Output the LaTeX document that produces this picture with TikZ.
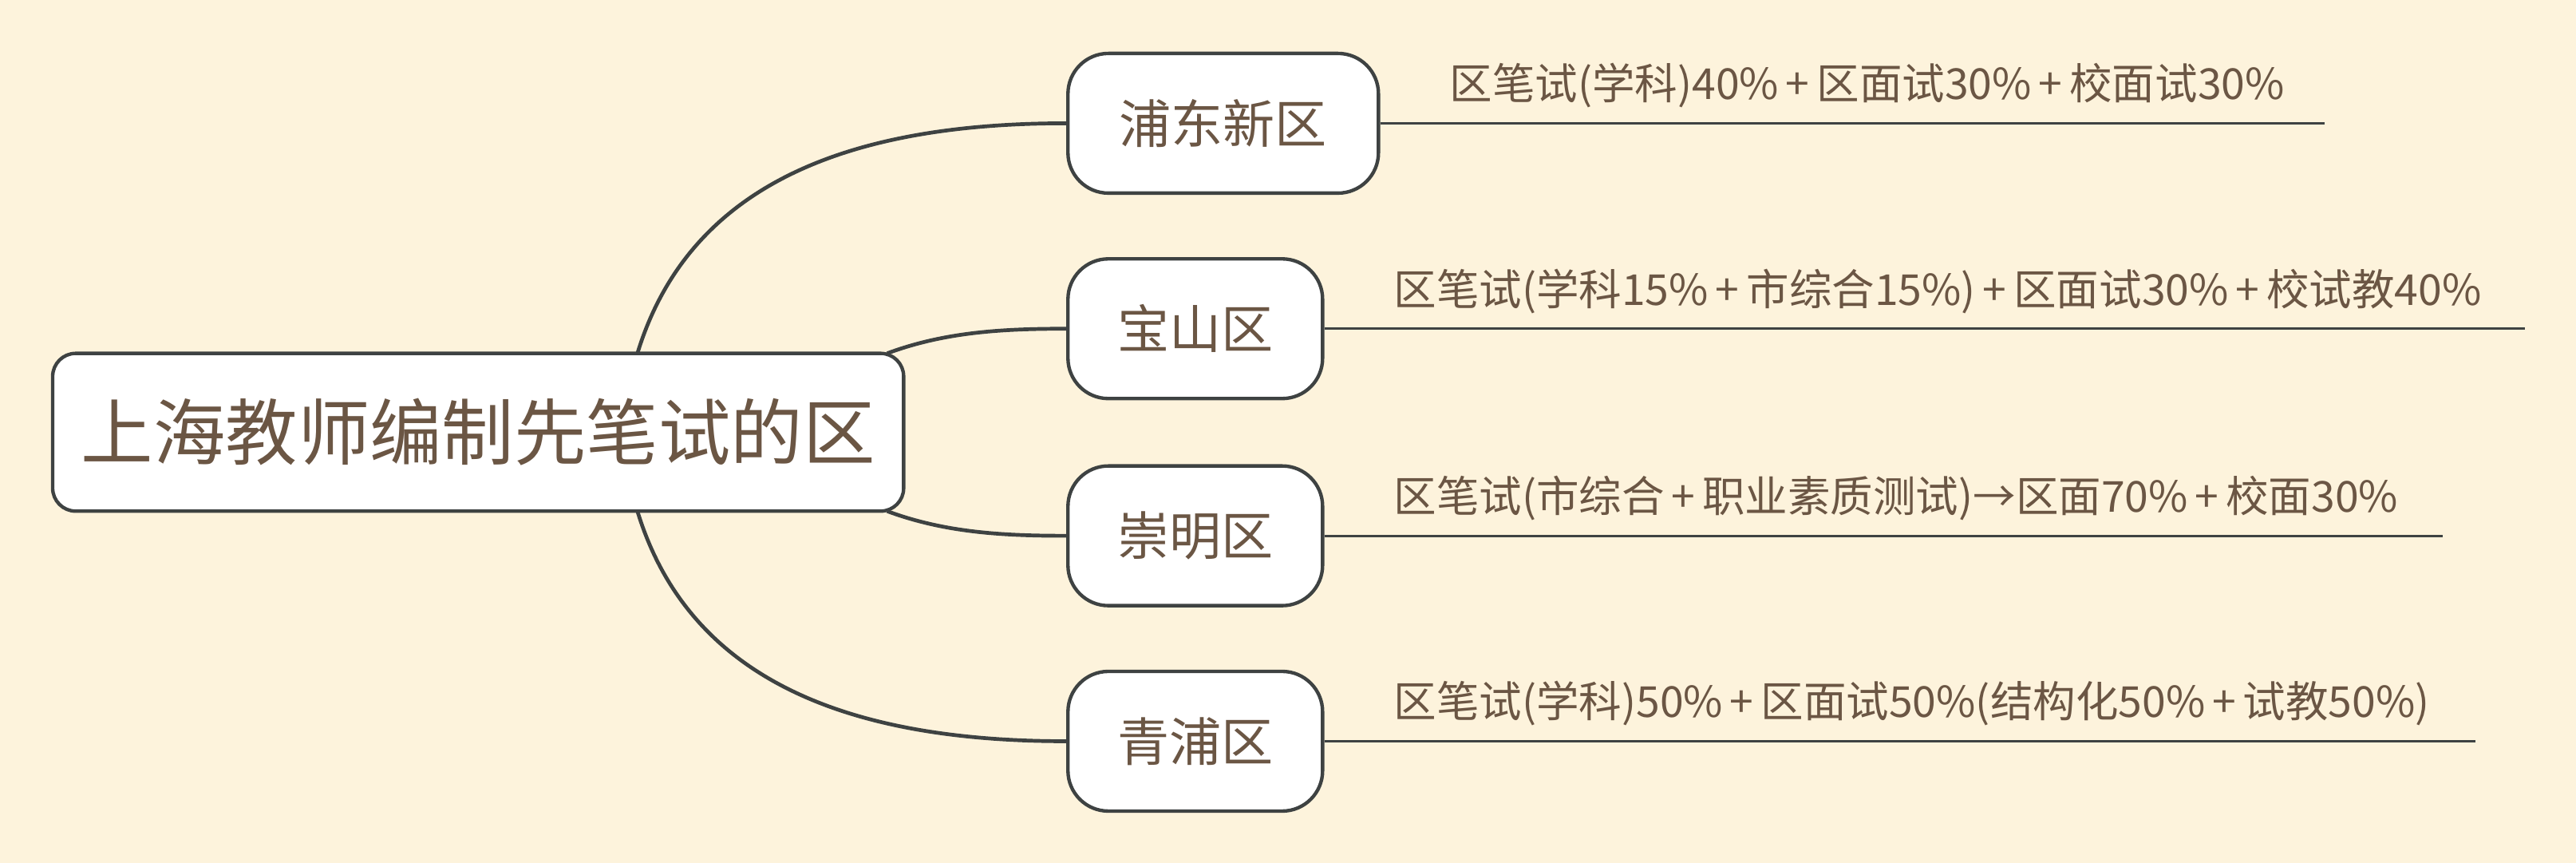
\documentclass[tikz,border=0pt]{standalone}
\usepackage{fontspec}
\newfontfamily\cjk{Noto Sans CJK SC}
\definecolor{bg}{HTML}{FDF3DC}
\definecolor{txt}{HTML}{6B5644}
\definecolor{ln}{HTML}{3E4242}
\begin{document}
\begin{tikzpicture}[x=0.02cm,y=-0.02cm,
  box/.style={draw=ln,line width=1.2pt,fill=white,rounded corners=14pt,text=txt,font=\cjk,inner sep=0pt,anchor=west},
  conn/.style={draw=ln,line width=1.3pt},
  lbl/.style={text=txt,font=\cjk\fontsize{14.8}{17}\selectfont,anchor=south west,inner sep=0pt}]
\fill[bg] (0,0) rectangle (1568,525);
\useasboundingbox (0,0) rectangle (1568,525);
\node[box,minimum width=518*0.02cm,minimum height=96*0.02cm,rounded corners=8pt,font=\cjk\fontsize{25}{30}\selectfont] (m) at (31,263) {上海教师编制先笔试的区};
\node[box,minimum width=189*0.02cm,minimum height=85*0.02cm,font=\cjk\fontsize{18}{22}\selectfont] (a) at (649,75) {浦东新区};
\node[box,minimum width=155*0.02cm,minimum height=85*0.02cm,font=\cjk\fontsize{18}{22}\selectfont] (b) at (649,200) {宝山区};
\node[box,minimum width=155*0.02cm,minimum height=85*0.02cm,font=\cjk\fontsize{18}{22}\selectfont] (c) at (649,326) {崇明区};
\node[box,minimum width=155*0.02cm,minimum height=85*0.02cm,font=\cjk\fontsize{18}{22}\selectfont] (d) at (649,451) {青浦区};
\coordinate (m1) at (388,215); \coordinate (m2) at (540,215);
\coordinate (m3) at (540,311); \coordinate (m4) at (388,311);
\draw[conn] (m1) .. controls (420,110) and (520,75) .. (a.west);
\draw[conn] (m2) .. controls (575,202) and (610,200) .. (b.west);
\draw[conn] (m3) .. controls (575,324) and (610,326) .. (c.west);
\draw[conn] (m4) .. controls (420,416) and (520,451) .. (d.west);
\coordinate (ea) at (1415,75); \coordinate (eb) at (1537,200);
\coordinate (ec) at (1487,326); \coordinate (ed) at (1507,451);
\draw[conn,line width=0.8pt] (a.east) -- (ea);
\draw[conn,line width=0.8pt] (b.east) -- (eb);
\draw[conn,line width=0.8pt] (c.east) -- (ec);
\draw[conn,line width=0.8pt] (d.east) -- (ed);
\def\p{\,+\,}
\node[lbl] (ta) at (882,66) {区笔试(学科)40\%\p 区面试30\%\p 校面试30\%};
\node[lbl] (tb) at (848,191) {区笔试(学科15\%\p 市综合15\%)\p 区面试30\%\p 校试教40\%};
\node[lbl] (tc) at (848,317) {区笔试(市综合\p 职业素质测试)→区面70\%\p 校面30\%};
\node[lbl] (td) at (848,442) {区笔试(学科)50\%\p 区面试50\%(结构化50\%\p 试教50\%)};
\end{tikzpicture}
\end{document}
